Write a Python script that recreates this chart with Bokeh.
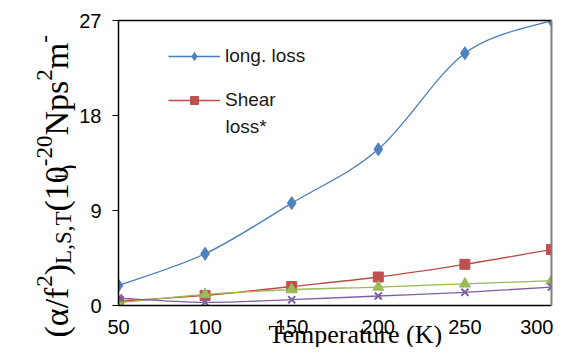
import numpy as np
from bokeh.plotting import figure
from bokeh.layouts import row
from bokeh.models import (Range1d, FixedTicker, LinearAxis, Label, Legend, LegendItem,
                          ColumnDataSource, Title)
from bokeh.core.properties import value
from bokeh.embed import file_html
from bokeh.resources import INLINE

# ---- data ----
temperature = [50, 100, 150, 200, 250, 300]
long_loss = [1.9, 4.9, 9.7, 14.8, 23.9, 27.0]
shear_loss = [0.4, 0.95, 1.8, 2.7, 3.9, 5.3]
series3 = [0.25, 1.05, 1.5, 1.75, 2.05, 2.35]
series4 = [0.7, 0.3, 0.55, 0.9, 1.25, 1.75]
y_ticks = [0, 9, 18, 27]
x_ticks = [50, 100, 150, 200, 250, 300]


def smooth_source(xs, ys):
    """Bezier segments (Catmull-Rom style) through the given points."""
    n = len(xs)
    pts = np.column_stack([xs, ys]).astype(float)
    d = dict(x0=[], y0=[], x1=[], y1=[], cx0=[], cy0=[], cx1=[], cy1=[])
    for i in range(n - 1):
        p0 = pts[max(i - 1, 0)]
        p1 = pts[i]
        p2 = pts[i + 1]
        p3 = pts[min(i + 2, n - 1)]
        c1 = p1 + (p2 - p0) / 6.0
        c2 = p2 - (p3 - p1) / 6.0
        d["x0"].append(p1[0]); d["y0"].append(p1[1])
        d["x1"].append(p2[0]); d["y1"].append(p2[1])
        d["cx0"].append(c1[0]); d["cy0"].append(c1[1])
        d["cx1"].append(c2[0]); d["cy1"].append(c2[1])
    return ColumnDataSource(d)


H = 347
LW = 76          # width of the strip holding the y-axis title
MW = 477         # width of the main chart

p = figure(width=MW, height=H, output_backend="svg", toolbar_location=None,
           x_range=Range1d(50, 300), y_range=Range1d(0, 27),
           min_border_left=40, min_border_right=2, min_border_top=20,
           min_border_bottom=42, x_axis_location=None, y_axis_location=None)
p.grid.visible = False
p.outline_line_color = None
p.background_fill_color = "white"
p.border_fill_color = "white"

# axes
xaxis = LinearAxis(ticker=FixedTicker(ticks=x_ticks))
xaxis.axis_line_color = "black"
xaxis.axis_line_width = 1.5
xaxis.major_tick_out = 0
xaxis.major_tick_in = 0
xaxis.minor_tick_line_color = None
xaxis.major_label_text_font = "Liberation Sans"
xaxis.major_label_text_font_size = "20px"
xaxis.major_label_text_color = "black"
xaxis.major_label_standoff = 14
p.add_layout(xaxis, "below")

yaxis = LinearAxis(ticker=FixedTicker(ticks=y_ticks))
yaxis.axis_line_color = "black"
yaxis.axis_line_width = 1.5
yaxis.major_tick_out = 6
yaxis.major_tick_in = 0
yaxis.major_tick_line_color = "black"
yaxis.minor_tick_line_color = None
yaxis.major_label_text_font = "Liberation Sans"
yaxis.major_label_text_font_size = "20px"
yaxis.major_label_text_color = "black"
yaxis.major_label_standoff = 11
p.add_layout(yaxis, "left")

for loc, col, w in (("above", "black", 1.5), ("right", "#7f7f7f", 2)):
    ax = LinearAxis(ticker=FixedTicker(ticks=[]))
    ax.axis_line_color = col
    ax.axis_line_width = w
    ax.major_tick_out = 0
    ax.major_tick_in = 0
    ax.major_tick_line_color = None
    ax.minor_tick_line_color = None
    ax.major_label_text_font_size = "0px"
    ax.major_label_standoff = 0
    p.add_layout(ax, loc)

# x-axis title
p.add_layout(Title(text="Temperature (K)", align="left", offset=150, standoff=-34,
                   vertical_align="top",
                   text_font="Liberation Serif", text_font_size="26px",
                   text_font_style="normal", text_color="black"), "below")

# series
specs = [
    (long_loss, "#4A7EBB", "#4F81BD", dict(marker="diamond", size=13)),
    (shear_loss, "#BE4B48", "#C0504D", dict(marker="square", size=10)),
    (series3, "#98B954", "#9BBB59", dict(marker="triangle", size=11)),
    (series4, "#7D60A0", "#7D60A0", dict(marker="x", size=10, line_width=2)),
]
rends = []
for ys, lc, fc, mk in specs:
    bez = p.bezier(x0="x0", y0="y0", x1="x1", y1="y1", cx0="cx0", cy0="cy0",
                   cx1="cx1", cy1="cy1", source=smooth_source(temperature, ys),
                   line_color=lc, line_width=1.3)
    kw = dict(mk)
    lw = kw.pop("line_width", 1)
    sc = p.scatter(temperature, ys, fill_color=fc, line_color=fc, line_width=lw, **kw)
    rends.append((bez, sc))

legend = Legend(items=[LegendItem(label="long. loss", renderers=list(rends[0])),
                       LegendItem(label="Shear", renderers=list(rends[1]))],
                location=(50, 194))
legend.glyph_width = 52
legend.glyph_height = 20
legend.label_height = 20
legend.spacing = 22
legend.padding = 0
legend.margin = 0
legend.label_standoff = 5
legend.border_line_color = None
legend.background_fill_color = None
legend.background_fill_alpha = 0
legend.label_text_font = "Liberation Sans"
legend.label_text_font_size = "19px"
legend.label_text_color = "#1a1a1a"
p.add_layout(legend, "center")

p.add_layout(Label(x=107, y=305 - 126, x_units="screen", y_units="screen",
                   text="loss*", text_font="Liberation Sans", text_font_size="19px",
                   text_color="#1a1a1a", text_baseline="alphabetic"))

# ---- strip with the rotated y-axis title (pixel coordinates) ----
t = figure(width=LW, height=H, output_backend="svg", toolbar_location=None,
           x_range=Range1d(0, LW), y_range=Range1d(0, H),
           min_border=0, x_axis_location=None, y_axis_location=None)
t.grid.visible = False
t.outline_line_color = None
t.border_fill_color = "white"
for fig in (t, p):
    if "frame_align" in fig.properties():
        fig.frame_align = False

# approximate advance widths (em) of the serif font, used to chain the pieces
ADV = {"(": .333, ")": .333, "α": .55, "/": .278, "f": .333, "L": .611, ",": .25,
       "S": .556, "T": .611, "1": .5, "0": .5, "2": .5, "-": .333, "N": .722,
       "p": .5, "s": .389, "m": .778}


def draw_line(parts, start_y, base_x, main, small, sup_dx, sub_dx):
    y = start_y
    for txt, kind in parts:
        fs = main if kind == 0 else small
        bx = base_x + (0 if kind == 0 else (sup_dx if kind < 0 else sub_dx))
        t.text(x=[bx], y=[H - y], text=[txt], angle=np.pi / 2,
               text_font=value("Liberation Serif"), text_font_size=f"{fs}px",
               text_color="black", text_align="left", text_baseline="alphabetic")
        y -= sum(ADV[c] for c in txt) * fs


line1 = [("(α/f", 0), ("2", -1), (")", 0), ("L,S,T", 1), ("(10", 0), ("-20", -1),
         ("Nps", 0), ("2", -1), ("m", 0), ("-", -1)]
line2 = [("1", -1), (")", 0)]

draw_line(line1, 337, 56, 34, 23, -12, 7)
draw_line(line2, 180, 67, 24, 16, -7, 0)

layout = row(t, p, spacing=0)
open("out.html", "w").write(file_html(layout, INLINE))
